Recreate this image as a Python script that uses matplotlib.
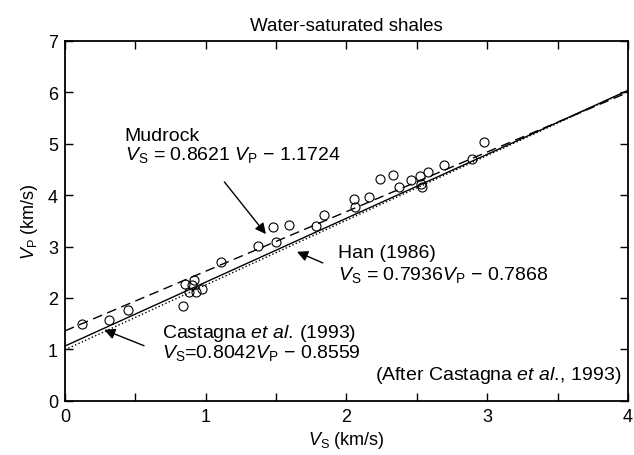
import matplotlib.pyplot as plt
import numpy as np

plt.rcParams['font.family'] = ['Liberation Sans', 'DejaVu Sans']
plt.rcParams['mathtext.fontset'] = 'custom'
plt.rcParams['mathtext.rm'] = 'Liberation Sans'
plt.rcParams['mathtext.it'] = 'Liberation Sans:italic'

# measured shale data (Vs, Vp) in km/s
vs_data = [0.12, 0.31, 0.45, 0.84, 0.85, 0.92, 0.88, 0.93, 0.97, 0.90, 1.11, 1.37, 1.50,
           1.48, 1.59, 1.78, 1.84, 2.05, 2.16, 2.06, 2.24, 2.33, 2.37, 2.46, 2.52,
           2.58, 2.53, 2.54, 2.69, 2.89, 2.98]
vp_data = [1.50, 1.58, 1.76, 1.85, 2.28, 2.34, 2.11, 2.11, 2.17, 2.26, 2.70, 3.02, 3.09,
           3.38, 3.41, 3.40, 3.62, 3.93, 3.96, 3.77, 4.32, 4.40, 4.16, 4.29, 4.38,
           4.45, 4.22, 4.16, 4.58, 4.71, 5.04]

# regression lines Vs = a*Vp + b
fit_names = ['Mudrock', 'Han', 'Castagna']
fit_a = [0.8621, 0.7936, 0.8042]
fit_b = [-1.1724, -0.7868, -0.8559]
fit_styles = [(0, (7, 4)), ':', '-']

fig = plt.figure(figsize=(6.34, 4.56), dpi=100)
ax = fig.add_axes([0.1025, 0.119, 0.888, 0.789])

vs_line = np.array([0.0, 4.0])
for name, a, b, ls in zip(fit_names, fit_a, fit_b, fit_styles):
    ax.plot(vs_line, (vs_line - b) / a, color='black', linestyle=ls, linewidth=1.0)

ax.plot(vs_data, vp_data, 'o', mfc='none', mec='black', ms=6.5, mew=0.8)

ax.set_xlim(0, 4)
ax.set_ylim(0, 7)
ax.set_xticks(np.arange(0, 4.01, 0.5))
ax.set_xticklabels(['0', '', '1', '', '2', '', '3', '', '4'])
ax.set_yticks(range(8))
ax.tick_params(direction='in', length=6, width=1, top=True, right=True, labelsize=13, pad=5)
for s in ax.spines.values():
    s.set_linewidth(1.3)

ax.set_xlabel(r'$V_{\rm S}$ (km/s)', fontsize=13, labelpad=3)
ax.set_ylabel(r'$V_{\rm P}$ (km/s)', fontsize=13, labelpad=6)
ax.set_title('Water-saturated shales', fontsize=13.5, pad=8)

fs = 14
ax.text(0.424, 5.08, 'Mudrock', fontsize=fs, va='baseline')
ax.text(0.424, 4.71, r'$V_{\rm S}$ = 0.8621 $V_{\rm P}$ − 1.1724', fontsize=fs, va='baseline')
ax.annotate('', xy=(1.44, 3.2), xytext=(1.12, 4.3),
            arrowprops=dict(arrowstyle='-|>', color='black', lw=1.0, mutation_scale=16))

ax.text(1.94, 2.80, 'Han (1986)', fontsize=fs, va='baseline')
ax.text(1.94, 2.37, r'$V_{\rm S}$ = 0.7936$V_{\rm P}$ − 0.7868', fontsize=fs, va='baseline')
ax.annotate('', xy=(1.63, 2.92), xytext=(1.85, 2.66),
            arrowprops=dict(arrowstyle='-|>', color='black', lw=1.0, mutation_scale=16))

ax.text(0.69, 1.245, r'$\mathrm{Castagna\ }\mathit{et\ al.}\,\mathrm{(1993)}$', fontsize=fs, va='baseline')
ax.text(0.69, 0.856, r'$V_{\rm S}$=0.8042$V_{\rm P}$ − 0.8559', fontsize=fs, va='baseline')
ax.annotate('', xy=(0.26, 1.40), xytext=(0.58, 1.05),
            arrowprops=dict(arrowstyle='-|>', color='black', lw=1.0, mutation_scale=16))

ax.text(3.95, 0.43, r'$\mathrm{(After\ Castagna\ }\mathit{et\ al.}\!\mathrm{,}\ \mathrm{1993)}$',
        fontsize=fs, ha='right', va='baseline')

fig.savefig('out.png', dpi=100)
